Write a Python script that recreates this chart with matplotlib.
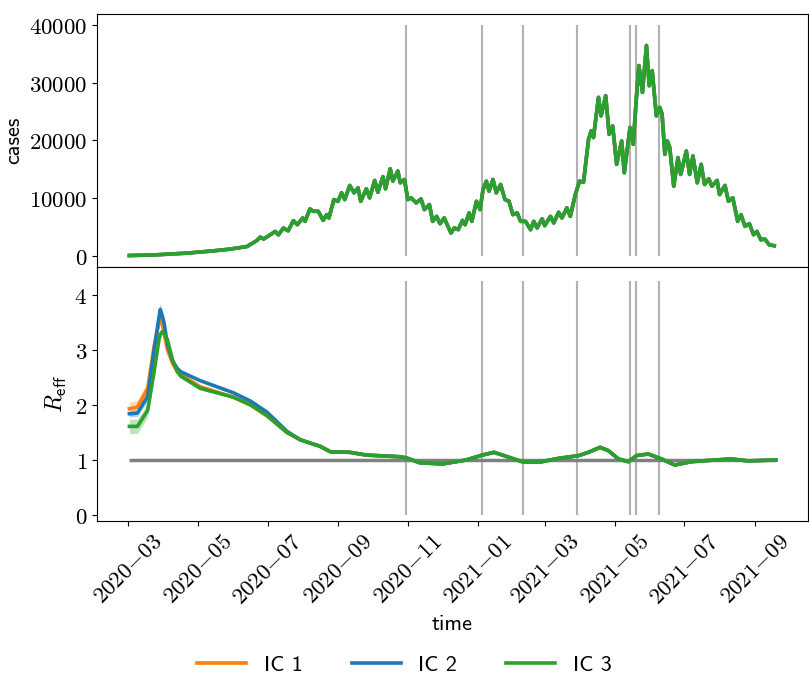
import numpy as np
import pandas as pd
import matplotlib
matplotlib.use('Agg')
import matplotlib.pyplot as plt
import matplotlib.dates as mdates
from matplotlib.ticker import FuncFormatter

plt.rcParams['mathtext.fontset'] = 'cm'

# daily cases (days after 2020-03-01)
case_days = [1, 22.6, 51.7, 74.9, 89.5, 104, 112.7, 115.6, 118.5, 124.3, 128.7, 131.5, 135.9, 140,
             144.6, 148.1, 152.8, 154.8, 159.1, 162, 166.4, 170.7, 173.7, 175.7, 180.1, 183.6,
             186.8, 189.6, 194, 197.7, 201.2, 203.6, 208.5, 211.4, 215.8, 218.6, 223, 225.3,
             229.4, 231.7, 236.1, 238.2, 241.9, 244.8, 247.7, 252.1, 256.4, 259.3, 263.7, 266.6,
             270, 273, 276.7, 282.6, 285.5, 289, 292.7, 295, 298.5, 300.9, 304.9, 308.1, 310.7,
             313.6, 315.9, 319.4, 322.3, 326.1, 329.9, 333.4, 336.8, 340.6, 343.6, 347.9, 352.3,
             355.1, 358, 362.4, 364.7, 369.7, 372.6, 376.9, 379.8, 384.1, 387.1, 391.5, 395.2,
             398.7, 403.1, 405.4, 407.4, 411.8, 414.1, 418.1, 421.1, 424.2, 427.7, 432.1, 434.4,
             439.4, 442.2, 445.1, 447.2, 450.3, 453.8, 456.2, 458.8, 462.5, 465.5, 467.5, 469.9,
             472.1, 474.2, 477.7, 481.4, 483.8, 488.7, 491.6, 494.5, 498.3, 501.7, 504.7, 508.4,
             511.1, 515.7, 517.8, 522.6, 525.6, 529.4, 533.7, 536.6, 540.1, 543.9, 547.6, 550.5,
             554, 557.5, 561.3, 565.7]
cases = [0, 100, 420, 820, 1120, 1570, 2620, 3200, 2870, 3600, 4190, 3600, 4780, 4300,
         6060, 5360, 6530, 5940, 8100, 7690, 7690, 6110, 7110, 6530, 9730, 9400,
         10900, 9730, 12180, 10900, 11770, 9430, 11600, 10030, 13050, 11000, 13700, 11600,
         15090, 12930, 14680, 12650, 13220, 9730, 10030, 9150, 9850, 7980, 8860, 5940,
         6810, 5540, 6530, 3910, 4790, 4500, 6110, 5360, 7410, 5940, 9430, 7980, 11480,
         12930, 11180, 13220, 10900, 12350, 9730, 9430, 7110, 7410, 5940, 5940, 4490,
         5940, 4790, 6360, 5190, 6810, 5660, 7510, 6530, 8280, 6810, 10600, 12930,
         12750, 20210, 21660, 20510, 27500, 24280, 27780, 21090, 22540, 15850, 19920, 14400,
         22260, 19340, 27780, 33020, 28370, 36510, 29520, 32140, 24280, 25750, 24580, 17590,
         19920, 18760, 12050, 17020, 14100, 18170, 14100, 17300, 12650, 15850, 12350, 13350,
         12050, 13050, 10600, 12180, 9430, 10030, 5940, 7110, 5070, 5540, 3620, 4190,
         2740, 2870, 1870, 1700]

# effective reproduction number per initial condition
r_days = [1, 8, 17, 22.6, 27, 28, 30, 31.4, 34.3, 38.7, 43, 46, 63, 92, 107, 121.4, 139,
          150.4, 159, 167.9, 177, 194, 208.5, 237.5, 243.4, 255.3, 275.3, 295.6, 310.1,
          320.3, 333.4, 344.9, 359.5, 376.9, 394.3, 403, 413.2, 420.5, 429.2, 437.9, 445.1,
          455.3, 466.9, 478.6, 493, 513.4, 527.9, 542.4, 567]
r_tail = [1.37, 1.31, 1.25, 1.15, 1.14, 1.09, 1.06, 1.04, 0.95, 0.93, 1.0, 1.09, 1.14, 1.05,
          0.97, 0.96, 1.03, 1.08, 1.14, 1.23, 1.17, 1.02, 0.97, 1.08, 1.11, 1.02, 0.91, 0.97,
          1.0, 1.02, 0.985, 1.0]
r_ic1 = [1.93, 1.96, 2.3, 3.06, 3.5, 3.58, 3.45, 3.3, 3.0, 2.76, 2.6, 2.55, 2.33, 2.14, 2.0,
         1.8, 1.5] + r_tail
r_ic2 = [1.84, 1.85, 2.15, 3.0, 3.6, 3.73, 3.6, 3.48, 3.1, 2.8, 2.66, 2.6, 2.44, 2.22, 2.07,
         1.87, 1.52] + r_tail
r_ic3 = [1.61, 1.61, 1.9, 2.6, 3.2, 3.28, 3.33, 3.3, 3.18, 2.82, 2.6, 2.52, 2.3, 2.14, 2.0,
         1.81, 1.5] + r_tail
band_ic1 = [0.12, 0.12, 0.12, 0.1, 0.08, 0.06, 0.05, 0.04, 0.03, 0.03] + [0.02] * 39
band_ic2 = [0.06, 0.06, 0.08, 0.1, 0.12, 0.12, 0.1, 0.08, 0.05, 0.03] + [0.02] * 39
band_ic3 = [0.13, 0.13, 0.12, 0.1, 0.08, 0.06, 0.05, 0.04, 0.03, 0.03] + [0.02] * 39

labels = ['IC 1', 'IC 2', 'IC 3']
colors = ['tab:orange', 'tab:blue', 'tab:green']
events = ['2020-10-30', '2021-01-05', '2021-02-10', '2021-03-29', '2021-05-14', '2021-05-20', '2021-06-09']

start = pd.Timestamp('2020-03-01')
t_cases = start + pd.to_timedelta(np.array(case_days), unit='D')
t_r = start + pd.to_timedelta(np.array(r_days), unit='D')
t_events = pd.to_datetime(events)

fig = plt.figure(figsize=(8.09, 6.95), dpi=100)
ax1 = fig.add_axes([0.12, 0.6158, 0.8788, 0.3641])
ax2 = fig.add_axes([0.12, 0.2508, 0.8788, 0.3650], sharex=ax1)

sans = 'cmss10'
fs = 16

ax1.vlines(t_events, 0, 40000, color='gray', alpha=0.6, lw=1.5)
for lab, c in zip(labels, colors):
    ax1.plot(t_cases, cases, color=c, lw=2.6, label=lab)
ax1.set_ylabel('cases', family=sans, fontsize=fs)
ax1.tick_params(axis='x', bottom=False, labelbottom=False)

ax2.vlines(t_events, 0, 4.25, color='gray', alpha=0.6, lw=1.5)
ax2.hlines(1, t_r[0], t_r[-1], color='gray', lw=2.5)
for r, b, c in zip([r_ic1, r_ic2, r_ic3], [band_ic1, band_ic2, band_ic3], colors):
    r = np.array(r)
    b = np.array(b)
    ax2.fill_between(t_r, r - b, r + b, color=c, alpha=0.3, lw=0)
for r, lab, c in zip([r_ic1, r_ic2, r_ic3], labels, colors):
    ax2.plot(t_r, r, color=c, lw=2.6, label=lab)
ax2.set_ylim(-0.1, 4.5)
ax2.set_yticks([0, 1, 2, 3, 4])
ax2.set_ylabel(r'$R_{\mathsf{eff}}$', fontsize=fs + 1)
ax2.set_xlabel('time', family=sans, fontsize=fs)

ax2.xaxis.set_major_locator(mdates.MonthLocator(bymonth=[1, 3, 5, 7, 9, 11]))
ax2.xaxis.set_major_formatter(FuncFormatter(lambda v, p: mdates.num2date(v).strftime('$%Y{-}%m$')))
num_fmt = FuncFormatter(lambda v, p: '$%d$' % round(v))
ax1.yaxis.set_major_formatter(num_fmt)
ax2.yaxis.set_major_formatter(num_fmt)
for ax in (ax1, ax2):
    ax.tick_params(labelsize=fs + 0.5)
plt.setp(ax2.get_xticklabels(), rotation=45)

handles, labs = ax2.get_legend_handles_labels()
fig.legend(handles, labs, loc='center', bbox_to_anchor=(0.5, 0.043), ncol=3, frameon=False,
           prop={'family': sans, 'size': fs}, handlelength=2.2, columnspacing=2.2)

fig.savefig('out.png', dpi=100)
